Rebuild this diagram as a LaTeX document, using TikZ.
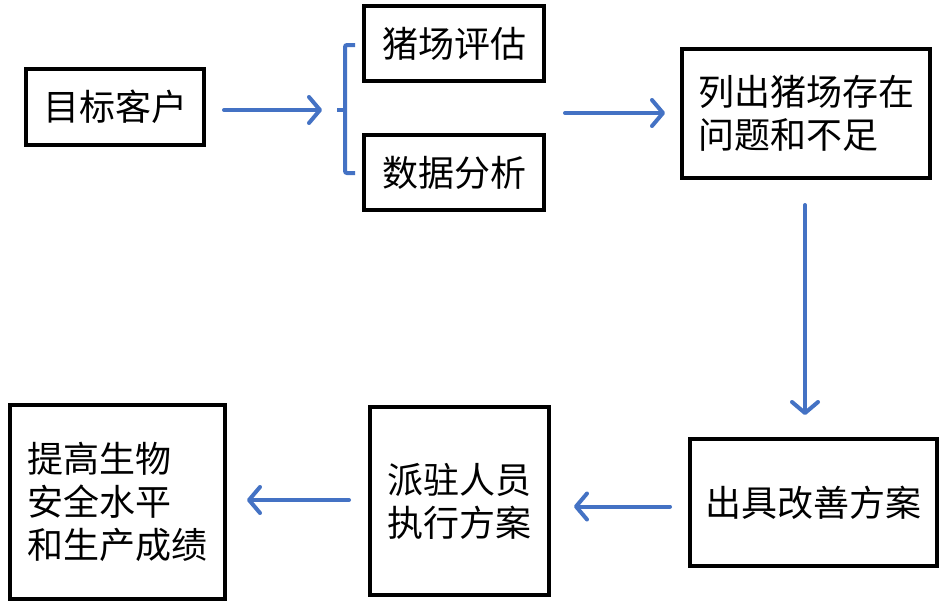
\documentclass[tikz,border=0pt]{standalone}
\usepackage{fontspec}
\setmainfont{Noto Sans CJK SC}
\usetikzlibrary{arrows.meta}
\definecolor{arrowblue}{HTML}{4472C4}
\tikzset{
  box/.style={draw=black, line width=4pt, inner sep=0pt, align=left,
    font=\fontsize{36}{43}\selectfont},
  arr/.style={draw=arrowblue, line width=4pt, line cap=round,
    -{Straight Barb[length=11pt,width=26pt,round]}},
  bracestyle/.style={draw=arrowblue, line width=4pt, rounded corners=2pt}
}
\begin{document}
\begin{tikzpicture}[x=1pt,y=-1pt]
\path[use as bounding box, fill=white] (0,0) rectangle (948,611);

\node[box, minimum width=178pt, minimum height=76pt] (a) at (115,107) {目标客户};
\node[box, minimum width=180pt, minimum height=75pt] (b) at (454,43.5) {猪场评估};
\node[box, minimum width=180pt, minimum height=75pt] (c) at (454,172.5) {数据分析};
\node[box, minimum width=248pt, minimum height=129pt] (d) at (806,113.5) {列出猪场存在\\问题和不足};
\node[box, minimum width=247pt, minimum height=127pt] (e) at (813.5,502.5) {出具改善方案};
\node[box, minimum width=179pt, minimum height=188pt] (f) at (459.5,501) {派驻人员\\执行方案};
\node[box, minimum width=215pt, minimum height=194pt] (g) at (117.5,502) {提高生物\\安全水平\\和生产成绩};

% brace
\coordinate (br) at (345,110);
\coordinate (bcout) at (565,113);
\draw[bracestyle] (355,45) -- (345,45) -- (345,173) -- (355,173);
\draw[bracestyle] (br) -- (337,110);

% connectors
\draw[arr, shorten <=18pt, shorten >=23pt] (a.east |- br) -- (br);
\draw[arr, shorten >=15pt] (bcout) -- (d.west |- bcout);
\draw[arr, shorten <=25pt, shorten >=22pt] ([xshift=-1pt]d.south) -- ([xshift=-1pt]d.south |- e.north);
\draw[arr, shorten <=18pt, shorten >=23pt] ([yshift=-4pt]e.west) -- ([yshift=-4pt]e.west -| f.east);
\draw[arr, shorten <=19pt, shorten >=20pt] ([yshift=1pt]f.west) -- ([yshift=1pt]f.west -| g.east);
\end{tikzpicture}
\end{document}
